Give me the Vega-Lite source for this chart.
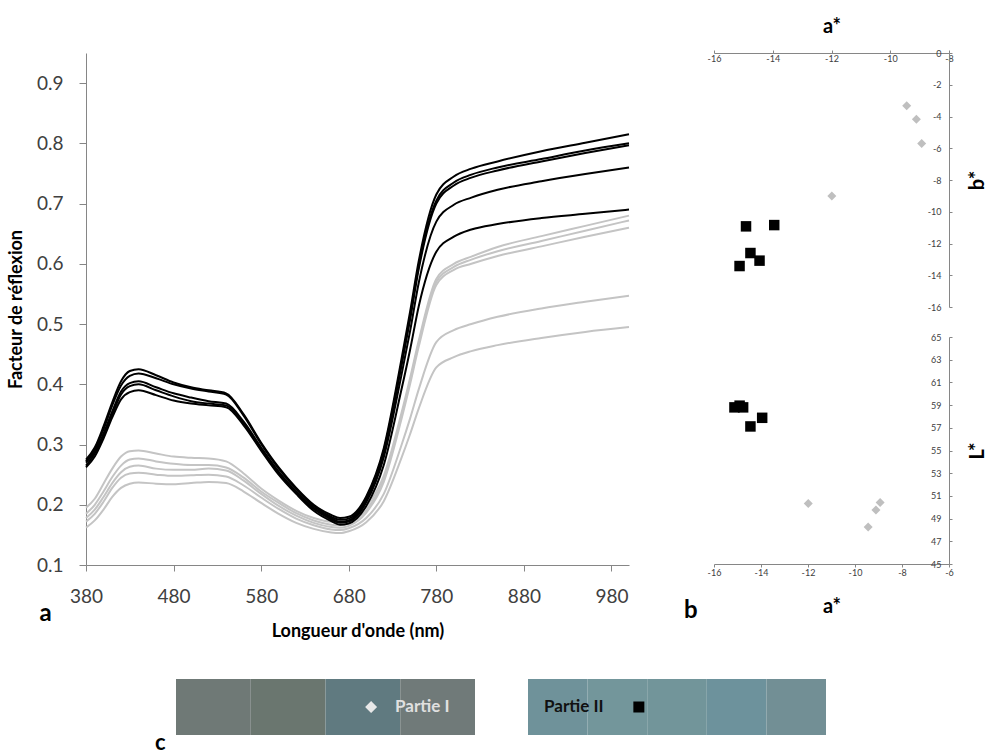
{
  "$schema": "https://vega.github.io/schema/vega-lite/v6.json",
  "background": "white",
  "padding": {"left": 7, "top": 16, "right": 0, "bottom": 0},
  "config": {
    "view": {"stroke": null},
    "font": "Lato",
    "axis": {"grid": false, "labelFlush": false, "labelOverlap": false, "domainColor": "#868686", "tickColor": "#868686", "labelFont": "Lato", "titleFont": "Lato", "titleColor": "#000000"}
  },
  "datasets": {
    "spectra": [
      {"w":380,"G1":0.195,"G2":0.185,"G3":0.178,"G4":0.172,"G5":0.162,"K1":0.275,"K2":0.272,"K3":0.27,"K4":0.265,"K5":0.262},
      {"w":390,"G1":0.21,"G2":0.2,"G3":0.192,"G4":0.185,"G5":0.174,"K1":0.295,"K2":0.292,"K3":0.288,"K4":0.285,"K5":0.28},
      {"w":400,"G1":0.235,"G2":0.222,"G3":0.213,"G4":0.205,"G5":0.192,"K1":0.33,"K2":0.325,"K3":0.318,"K4":0.315,"K5":0.31},
      {"w":410,"G1":0.26,"G2":0.246,"G3":0.236,"G4":0.228,"G5":0.213,"K1":0.37,"K2":0.365,"K3":0.355,"K4":0.35,"K5":0.345},
      {"w":420,"G1":0.28,"G2":0.265,"G3":0.254,"G4":0.245,"G5":0.228,"K1":0.405,"K2":0.398,"K3":0.388,"K4":0.383,"K5":0.375},
      {"w":430,"G1":0.289,"G2":0.275,"G3":0.263,"G4":0.252,"G5":0.235,"K1":0.422,"K2":0.414,"K3":0.402,"K4":0.397,"K5":0.387},
      {"w":440,"G1":0.29,"G2":0.277,"G3":0.265,"G4":0.253,"G5":0.237,"K1":0.425,"K2":0.418,"K3":0.405,"K4":0.4,"K5":0.39},
      {"w":460,"G1":0.285,"G2":0.272,"G3":0.26,"G4":0.25,"G5":0.235,"K1":0.415,"K2":0.41,"K3":0.395,"K4":0.39,"K5":0.382},
      {"w":480,"G1":0.28,"G2":0.268,"G3":0.258,"G4":0.248,"G5":0.234,"K1":0.403,"K2":0.4,"K3":0.385,"K4":0.38,"K5":0.373},
      {"w":500,"G1":0.278,"G2":0.266,"G3":0.258,"G4":0.249,"G5":0.236,"K1":0.395,"K2":0.393,"K3":0.378,"K4":0.372,"K5":0.368},
      {"w":520,"G1":0.277,"G2":0.266,"G3":0.26,"G4":0.25,"G5":0.238,"K1":0.39,"K2":0.388,"K3":0.372,"K4":0.368,"K5":0.365},
      {"w":540,"G1":0.272,"G2":0.262,"G3":0.257,"G4":0.247,"G5":0.236,"K1":0.385,"K2":0.383,"K3":0.368,"K4":0.365,"K5":0.362},
      {"w":560,"G1":0.252,"G2":0.245,"G3":0.24,"G4":0.232,"G5":0.222,"K1":0.35,"K2":0.348,"K3":0.338,"K4":0.335,"K5":0.332},
      {"w":580,"G1":0.227,"G2":0.222,"G3":0.218,"G4":0.212,"G5":0.203,"K1":0.303,"K2":0.301,"K3":0.295,"K4":0.292,"K5":0.29},
      {"w":600,"G1":0.207,"G2":0.203,"G3":0.198,"G4":0.193,"G5":0.185,"K1":0.262,"K2":0.26,"K3":0.255,"K4":0.252,"K5":0.25},
      {"w":620,"G1":0.19,"G2":0.186,"G3":0.182,"G4":0.177,"G5":0.17,"K1":0.228,"K2":0.226,"K3":0.222,"K4":0.22,"K5":0.218},
      {"w":640,"G1":0.178,"G2":0.174,"G3":0.17,"G4":0.166,"G5":0.16,"K1":0.2,"K2":0.198,"K3":0.195,"K4":0.193,"K5":0.19},
      {"w":660,"G1":0.172,"G2":0.167,"G3":0.163,"G4":0.159,"G5":0.154,"K1":0.183,"K2":0.18,"K3":0.178,"K4":0.176,"K5":0.173},
      {"w":670,"G1":0.172,"G2":0.166,"G3":0.162,"G4":0.158,"G5":0.153,"K1":0.178,"K2":0.175,"K3":0.172,"K4":0.17,"K5":0.167},
      {"w":680,"G1":0.175,"G2":0.169,"G3":0.165,"G4":0.161,"G5":0.156,"K1":0.18,"K2":0.177,"K3":0.174,"K4":0.172,"K5":0.169},
      {"w":700,"G1":0.197,"G2":0.191,"G3":0.187,"G4":0.178,"G5":0.171,"K1":0.214,"K2":0.211,"K3":0.208,"K4":0.204,"K5":0.198},
      {"w":720,"G1":0.248,"G2":0.242,"G3":0.238,"G4":0.218,"G5":0.206,"K1":0.294,"K2":0.29,"K3":0.286,"K4":0.279,"K5":0.266},
      {"w":740,"G1":0.351,"G2":0.346,"G3":0.341,"G4":0.298,"G5":0.277,"K1":0.44,"K2":0.433,"K3":0.429,"K4":0.414,"K5":0.39},
      {"w":750,"G1":0.41,"G2":0.405,"G3":0.4,"G4":0.343,"G5":0.317,"K1":0.52,"K2":0.512,"K3":0.507,"K4":0.488,"K5":0.457},
      {"w":760,"G1":0.473,"G2":0.468,"G3":0.463,"G4":0.392,"G5":0.36,"K1":0.605,"K2":0.597,"K3":0.592,"K4":0.569,"K5":0.53},
      {"w":780,"G1":0.575,"G2":0.57,"G3":0.565,"G4":0.47,"G5":0.428,"K1":0.715,"K2":0.705,"K3":0.7,"K4":0.67,"K5":0.62},
      {"w":800,"G1":0.6,"G2":0.595,"G3":0.59,"G4":0.49,"G5":0.445,"K1":0.745,"K2":0.735,"K3":0.73,"K4":0.698,"K5":0.645},
      {"w":820,"G1":0.612,"G2":0.607,"G3":0.6,"G4":0.5,"G5":0.455,"K1":0.758,"K2":0.748,"K3":0.743,"K4":0.71,"K5":0.657},
      {"w":850,"G1":0.628,"G2":0.621,"G3":0.613,"G4":0.512,"G5":0.465,"K1":0.77,"K2":0.76,"K3":0.755,"K4":0.723,"K5":0.666},
      {"w":900,"G1":0.646,"G2":0.638,"G3":0.629,"G4":0.526,"G5":0.477,"K1":0.787,"K2":0.774,"K3":0.77,"K4":0.737,"K5":0.676},
      {"w":950,"G1":0.663,"G2":0.655,"G3":0.645,"G4":0.537,"G5":0.487,"K1":0.801,"K2":0.788,"K3":0.784,"K4":0.749,"K5":0.683},
      {"w":1000,"G1":0.68,"G2":0.672,"G3":0.66,"G4":0.547,"G5":0.495,"K1":0.815,"K2":0.8,"K3":0.797,"K4":0.76,"K5":0.69}
    ],
    "lab": [
      {"part":"I","a":-9.44,"b":-3.33,"L":48.26},
      {"part":"I","a":-9.11,"b":-4.17,"L":49.76},
      {"part":"I","a":-8.93,"b":-5.7,"L":50.41},
      {"part":"I","a":-11.99,"b":-9.0,"L":50.32},
      {"part":"II","a":-15.13,"b":-13.42,"L":58.8},
      {"part":"II","a":-14.91,"b":-10.92,"L":58.95},
      {"part":"II","a":-14.76,"b":-12.6,"L":58.8},
      {"part":"II","a":-14.45,"b":-13.08,"L":57.12},
      {"part":"II","a":-13.95,"b":-10.84,"L":57.88}
    ],
    "strips": [
      {"part":"I","seg":"I1"},{"part":"I","seg":"I2"},{"part":"I","seg":"I3"},{"part":"I","seg":"I4"},
      {"part":"II","seg":"II1"},{"part":"II","seg":"II2"},{"part":"II","seg":"II3"},{"part":"II","seg":"II4"},{"part":"II","seg":"II5"}
    ]
  },
  "resolve": {"scale": {"color": "independent", "shape": "independent", "size": "independent"}},
  "spacing": 39,
  "vconcat": [
    {
      "bounds": "flush",
      "spacing": 85,
      "resolve": {"scale": {"color": "independent", "shape": "independent", "size": "independent"}},
      "hconcat": [
        {
          "width": 543,
          "height": 512,
          "layer": [
            {
              "data": {"name": "spectra"},
              "transform": [{"fold": ["G1","G2","G3","G4","G5","K1","K2","K3","K4","K5"], "as": ["curve","r"]}],
              "mark": {"type": "line", "interpolate": "monotone", "strokeWidth": 2},
              "encoding": {
                "x": {"field": "w", "type": "quantitative", "scale": {"domain": [380, 1000], "nice": false, "zero": false},
                  "axis": {"values": [380,480,580,680,780,880,980], "title": "Longueur d'onde (nm)", "tickSize": 6, "labelFontSize": 19, "labelColor": "#404040", "labelPadding": 16, "titleFontSize": 18, "titleFontWeight": "bold", "titlePadding": 16}},
                "y": {"field": "r", "type": "quantitative", "scale": {"domain": [0.1, 0.95], "nice": false, "zero": false},
                  "axis": {"values": [0.1,0.2,0.3,0.4,0.5,0.6,0.7,0.8,0.9], "format": ".1f", "title": "Facteur de réflexion", "tickSize": 7, "labelFontSize": 19, "labelColor": "#404040", "labelPadding": 16, "titleFontSize": 18, "titleFontWeight": "bold", "titlePadding": 11}},
                "detail": {"field": "curve"},
                "color": {"field": "curve", "type": "nominal", "legend": null,
                  "scale": {"domain": ["G1","G2","G3","G4","G5","K1","K2","K3","K4","K5"], "range": ["#c4c4c4","#c4c4c4","#c4c4c4","#c4c4c4","#c4c4c4","#000000","#000000","#000000","#000000","#000000"]}}
              }
            },
            {
              "data": {"values": [{"label": "a"}]},
              "mark": {"type": "text", "fontSize": 24, "fontWeight": "bold", "baseline": "alphabetic", "align": "center", "color": "#000000"},
              "encoding": {"x": {"datum": 334}, "y": {"datum": 0.007}, "text": {"field": "label"}}
            }
          ]
        },
        {
          "bounds": "flush",
          "spacing": 30,
          "resolve": {"scale": {"color": "independent", "shape": "independent", "size": "independent"}},
          "vconcat": [
            {
              "width": 235,
              "height": 254,
              "data": {"name": "lab"},
              "mark": {"type": "point", "filled": true, "opacity": 1},
              "encoding": {
                "x": {"field": "a", "type": "quantitative", "scale": {"domain": [-16, -8], "nice": false, "zero": false},
                  "axis": {"orient": "top", "values": [-16,-14,-12,-10,-8], "labelExpr": "'' + datum.value", "labelOverlap": false, "tickSize": 3, "labelFontSize": 9, "labelColor": "#404040", "labelBaseline": "middle", "labelPadding": -8, "title": "a*", "titleFontSize": 20, "titleFontWeight": "bold", "titlePadding": 13}},
                "y": {"field": "b", "type": "quantitative", "scale": {"domain": [-16, 0], "nice": false, "zero": false},
                  "axis": {"orient": "right", "values": [0,-2,-4,-6,-8,-10,-12,-14,-16], "labelExpr": "'' + datum.value", "labelOverlap": false, "tickSize": 3, "labelFontSize": 9, "labelColor": "#404040", "labelAlign": "right", "labelPadding": -11, "title": "b*", "titleAngle": 270, "titleBaseline": "top", "titleFontSize": 20, "titleFontWeight": "bold", "titlePadding": 15}},
                "shape": {"field": "part", "type": "nominal", "legend": null, "scale": {"domain": ["I","II"], "range": ["diamond","square"]}},
                "color": {"field": "part", "type": "nominal", "legend": null, "scale": {"domain": ["I","II"], "range": ["#bfbfbf","#000000"]}},
                "size": {"field": "part", "type": "ordinal", "legend": null, "scale": {"domain": ["I","II"], "range": [81, 110]}}
              }
            },
            {
              "width": 235,
              "height": 227,
              "title": {"text": "b", "orient": "bottom", "anchor": "start", "dx": -23, "offset": -17, "fontSize": 24, "fontWeight": "bold", "color": "#000000", "font": "Lato"},
              "data": {"name": "lab"},
              "mark": {"type": "point", "filled": true, "opacity": 1},
              "encoding": {
                "x": {"field": "a", "type": "quantitative", "scale": {"domain": [-16, -6], "nice": false, "zero": false},
                  "axis": {"orient": "bottom", "values": [-16,-14,-12,-10,-8,-6], "labelExpr": "'' + datum.value", "labelOverlap": false, "tickSize": 3, "labelFontSize": 9, "labelColor": "#404040", "labelPadding": 1, "title": "a*", "titleFontSize": 20, "titleFontWeight": "bold", "titlePadding": 19}},
                "y": {"field": "L", "type": "quantitative", "scale": {"domain": [45, 65], "nice": false, "zero": false},
                  "axis": {"orient": "right", "values": [45,47,49,51,53,55,57,59,61,63,65], "labelExpr": "'' + datum.value", "labelOverlap": false, "tickSize": 3, "labelFontSize": 9, "labelColor": "#404040", "labelAlign": "right", "labelPadding": -11, "title": "L*", "titleAngle": 270, "titleBaseline": "top", "titleFontSize": 20, "titleFontWeight": "bold", "titlePadding": 15}},
                "shape": {"field": "part", "type": "nominal", "legend": null, "scale": {"domain": ["I","II"], "range": ["diamond","square"]}},
                "color": {"field": "part", "type": "nominal", "legend": null, "scale": {"domain": ["I","II"], "range": ["#bfbfbf","#000000"]}},
                "size": {"field": "part", "type": "ordinal", "legend": null, "scale": {"domain": ["I","II"], "range": [81, 110]}}
              }
            }
          ]
        }
      ]
    },
    {
      "bounds": "flush",
      "spacing": 53,
      "resolve": {"scale": {"color": "independent", "shape": "independent", "size": "independent"}},
      "hconcat": [
        {
          "width": 37,
          "height": 56,
          "data": {"values": [{"k": 1}]},
          "mark": {"type": "point", "opacity": 0},
          "encoding": {}
        },
        {
          "width": 299,
          "height": 56,
          "title": {"text": "c", "orient": "bottom", "anchor": "start", "dx": -21, "offset": -2, "fontSize": 22, "fontWeight": "bold", "color": "#000000", "font": "Lato"},
          "layer": [
            {
              "data": {"name": "strips"},
              "transform": [{"filter": "datum.part === 'I'"}],
              "mark": {"type": "bar"},
              "encoding": {
                "x": {"field": "seg", "type": "ordinal", "axis": null, "scale": {"domain": ["I1","I2","I3","I4"], "paddingInner": 0, "paddingOuter": 0}},
                "color": {"field": "seg", "type": "nominal", "legend": null, "scale": {"domain": ["I1","I2","I3","I4"], "range": ["#6f7976","#6a766f","#607a80","#707a79"]}}
              }
            },
            {
              "data": {"values": [{"k": 1}]},
              "mark": {"type": "point", "shape": "diamond", "filled": true, "opacity": 1, "size": 144, "color": "#e8e8e8"},
              "encoding": {"x": {"datum": "I3", "bandPosition": 0.61}}
            },
            {
              "data": {"values": [{"label": "Partie I"}]},
              "mark": {"type": "text", "align": "left", "baseline": "middle", "fontSize": 17, "fontWeight": "bold", "color": "#e0e0e0"},
              "encoding": {"x": {"datum": "I3", "bandPosition": 0.93}, "text": {"field": "label"}}
            }
          ]
        },
        {
          "width": 298,
          "height": 56,
          "layer": [
            {
              "data": {"name": "strips"},
              "transform": [{"filter": "datum.part === 'II'"}],
              "mark": {"type": "bar"},
              "encoding": {
                "x": {"field": "seg", "type": "ordinal", "axis": null, "scale": {"domain": ["II1","II2","II3","II4","II5"], "paddingInner": 0, "paddingOuter": 0}},
                "color": {"field": "seg", "type": "nominal", "legend": null, "scale": {"domain": ["II1","II2","II3","II4","II5"], "range": ["#6f929a","#73969b","#72959a","#6d929c","#728f95"]}}
              }
            },
            {
              "data": {"values": [{"label": "Partie II"}]},
              "mark": {"type": "text", "align": "left", "baseline": "middle", "fontSize": 17, "fontWeight": "bold", "color": "#111111"},
              "encoding": {"x": {"datum": "II1", "bandPosition": 0.27}, "text": {"field": "label"}}
            },
            {
              "data": {"values": [{"k": 1}]},
              "mark": {"type": "point", "shape": "square", "filled": true, "opacity": 1, "size": 121, "color": "#000000"},
              "encoding": {"x": {"datum": "II2", "bandPosition": 0.86}}
            }
          ]
        }
      ]
    }
  ]
}
